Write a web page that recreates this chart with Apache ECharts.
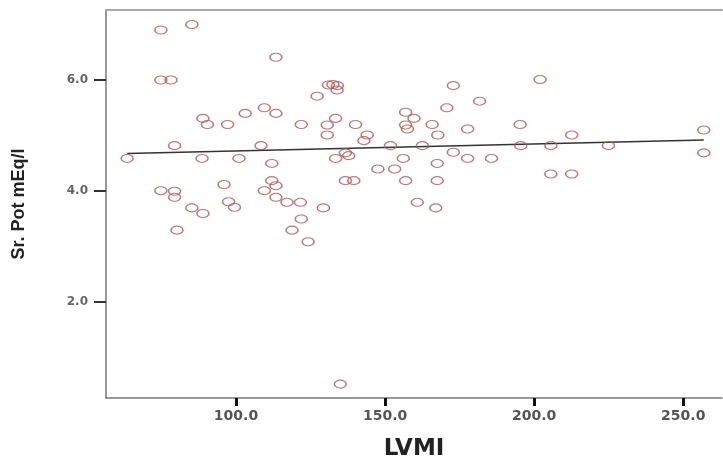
<!DOCTYPE html>
<html>
<head>
<meta charset="utf-8">
<script src="https://cdn.jsdelivr.net/npm/echarts@6/dist/echarts.min.js"></script>
<style>
  html, body { margin: 0; padding: 0; background: #fff; }
  #chart { width: 723px; height: 466px; }
</style>
</head>
<body>
<div id="chart"></div>
<script>
// LVMI (x) and serum potassium (y)
const lvmi = [
  74.8, 85.2, 113.4, 74.8, 78.2, 127.2, 88.9, 90.4, 97.2, 103.1,
  109.5, 113.4, 121.9, 79.4, 108.4, 63.5, 88.6, 101.0, 112.0, 96.0,
  112.0, 113.4, 109.5, 74.8, 79.4, 79.4, 113.4, 117.1, 121.6, 129.3,
  85.2, 88.9, 97.5, 99.5, 80.2, 121.9, 118.8, 124.2, 160.8, 167.0,
  135.0, 131.0, 132.5, 134.0, 133.9, 133.4, 130.6, 140.1, 130.6, 144.0,
  142.9, 151.8, 156.9, 159.7, 156.9, 157.5, 165.8, 167.7, 170.7, 172.9,
  181.7, 177.7, 195.3, 202.0, 162.5, 172.9, 195.5, 136.7, 137.8, 133.4,
  156.1, 177.7, 185.7, 147.6, 153.2, 167.5, 136.7, 139.5, 156.9, 167.5,
  212.6, 205.6, 224.9, 256.9, 256.9, 205.6, 212.6
];
const srPot = [
  6.89, 6.99, 6.40, 5.99, 5.99, 5.70, 5.30, 5.19, 5.19, 5.39,
  5.49, 5.39, 5.19, 4.81, 4.81, 4.58, 4.58, 4.58, 4.49, 4.11,
  4.18, 4.09, 4.00, 4.00, 3.99, 3.88, 3.88, 3.79, 3.79, 3.69,
  3.69, 3.59, 3.80, 3.70, 3.29, 3.49, 3.29, 3.08, 3.79, 3.69,
  0.52, 5.90, 5.91, 5.89, 5.81, 5.30, 5.18, 5.19, 5.00, 5.00,
  4.90, 4.81, 5.41, 5.30, 5.18, 5.11, 5.19, 5.00, 5.49, 5.89,
  5.61, 5.11, 5.19, 6.00, 4.81, 4.69, 4.81, 4.68, 4.63, 4.58,
  4.58, 4.58, 4.58, 4.39, 4.39, 4.49, 4.18, 4.18, 4.18, 4.18,
  5.00, 4.81, 4.81, 5.09, 4.68, 4.30, 4.30
];
// fitted line end points
const fitX = [63.5, 256.9];
const fitY = [4.67, 4.91];

const xTicks = [100, 150, 200, 250];
const yTicks = [2, 4, 6];

const chart = echarts.init(document.getElementById("chart"));

const points = lvmi.map((x, i) => [x, srPot[i]]);
const fit = fitX.map((x, i) => [x, fitY[i]]);

const option = {
  animation: false,
  backgroundColor: "#fff",
  grid: { left: 106, right: 1, top: 10, bottom: 65 },
  xAxis: [
    {
      type: "value",
      min: 56.4,
      max: 263,
      name: "LVMI",
      nameLocation: "middle",
      nameGap: 40,
      nameTextStyle: {
        fontFamily: "DejaVu Sans",
        fontWeight: "bold",
        fontSize: 23,
        color: "#222",
      },
      axisLine: { lineStyle: { color: "#777", width: 1.5 } },
      axisTick: {
        customValues: xTicks,
        length: 8,
        lineStyle: { color: "#111", width: 3 },
      },
      axisLabel: {
        customValues: xTicks,
        margin: 11,
        fontFamily: "DejaVu Sans",
        fontWeight: "bold",
        fontSize: 14,
        color: "#555",
        formatter: (v) => v.toFixed(1),
      },
      splitLine: { show: false },
    },
    {
      type: "value",
      position: "top",
      min: 56.4,
      max: 263,
      axisLine: { show: true, lineStyle: { color: "#aaa", width: 2 } },
      axisTick: { show: false },
      axisLabel: { show: false },
      splitLine: { show: false },
    },
  ],
  yAxis: {
    type: "value",
    min: 0.27,
    max: 7.25,
    name: "Sr. Pot mEq/l",
    nameLocation: "middle",
    nameRotate: 90,
    nameGap: 78,
    nameTextStyle: {
      fontFamily: "Liberation Sans",
      fontWeight: "bold",
      fontSize: 18,
      color: "#222",
    },
    axisLine: { show: true, lineStyle: { color: "#777", width: 1.5 } },
    axisTick: {
      show: true,
      customValues: yTicks,
      length: 12,
      lineStyle: { color: "#333", width: 2 },
    },
    axisLabel: {
      customValues: yTicks,
      margin: 18,
      fontFamily: "DejaVu Sans",
      fontWeight: "bold",
      fontSize: 12,
      color: "#666",
      formatter: (v) => v.toFixed(1),
    },
    splitLine: { show: false },
  },
  series: [
    {
      type: "scatter",
      data: points,
      symbol: "circle",
      symbolSize: [12, 8],
      itemStyle: {
        color: "rgba(255,255,255,0)",
        borderColor: "#b05858",
        borderWidth: 1.3,
      },
      z: 3,
    },
    {
      type: "line",
      data: fit,
      symbol: "none",
      lineStyle: { color: "#333", width: 1.5 },
      z: 2,
    },
  ],
};

chart.setOption(option);
</script>
</body>
</html>
